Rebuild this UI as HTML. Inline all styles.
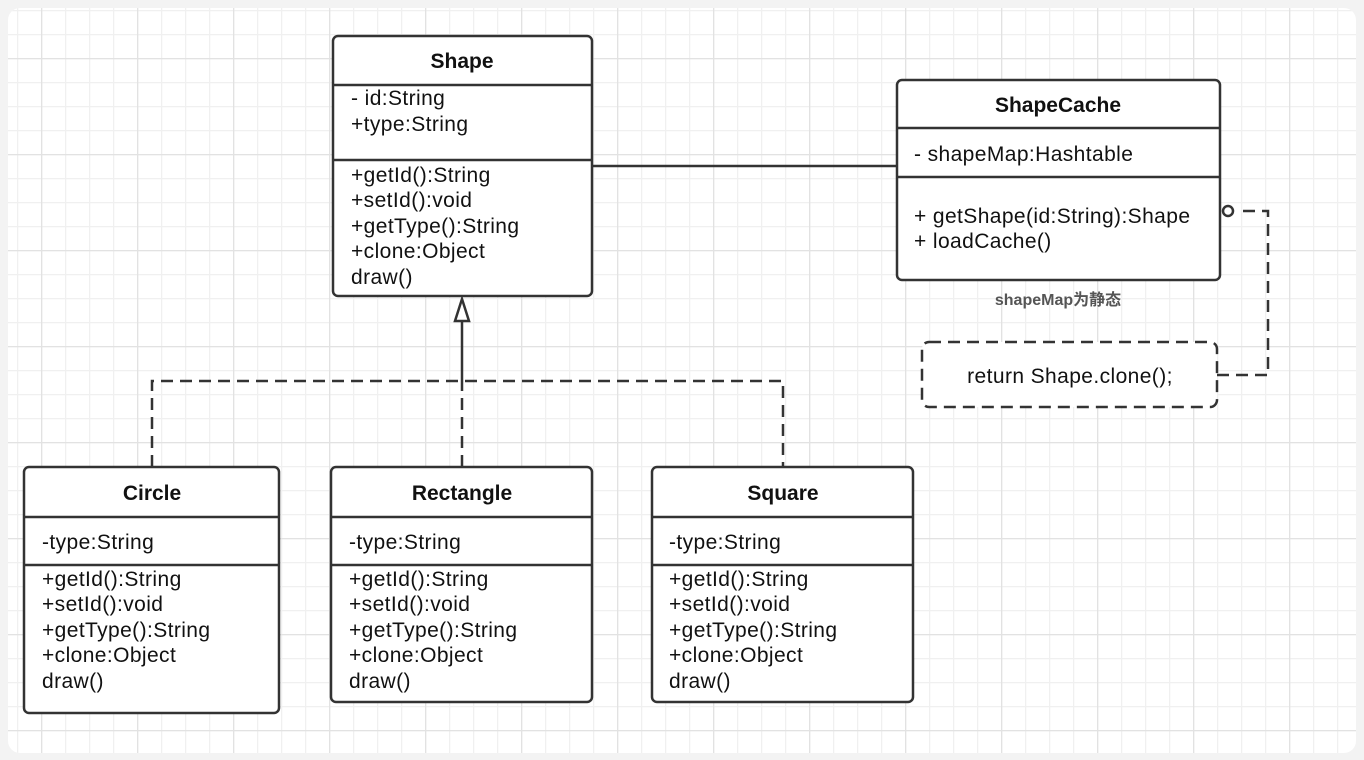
<!DOCTYPE html>
<html><head><meta charset="utf-8"><style>
html,body{margin:0;padding:0;background:#f3f3f3;}
svg{display:block;}
text{font-family:"Liberation Sans","Noto Sans CJK SC",sans-serif;font-size:21px;letter-spacing:0.4px;fill:#111;}
.b{font-weight:bold;letter-spacing:0;}
</style></head><body>
<svg width="1364" height="760" viewBox="0 0 1364 760" xmlns="http://www.w3.org/2000/svg">
<defs>
<pattern id="g" x="17" y="10" width="24" height="24" patternUnits="userSpaceOnUse">
<path d="M0 0.5H24M0.5 0V24" stroke="#f0f0f0" stroke-width="1.5" fill="none"/>
</pattern>
<pattern id="G" x="41" y="58" width="96" height="96" patternUnits="userSpaceOnUse">
<path d="M0 0.5H96M0.5 0V96" stroke="#e2e2e2" stroke-width="1.6" fill="none"/>
</pattern>
<clipPath id="c"><rect x="8" y="8" width="1348" height="745" rx="12"/></clipPath>
</defs>
<rect x="8" y="8" width="1348" height="745" rx="12" fill="#fff"/>
<g clip-path="url(#c)">
<rect x="8" y="8" width="1348" height="745" fill="url(#g)"/>
<rect x="8" y="8" width="1348" height="745" fill="url(#G)"/>
</g>
<g stroke="#333" stroke-width="2.5" fill="none">
<line x1="592" y1="166" x2="897" y2="166"/>
<path d="M152 467V381H783V467M462 467V381" stroke-dasharray="12 7"/>
<line x1="462" y1="381" x2="462" y2="322"/>
<path d="M1217 375H1268V211H1236" stroke-dasharray="12 7"/>
<circle cx="1228" cy="211" r="5" fill="#fff"/>
<rect x="922" y="342" width="295" height="65" rx="7" stroke-dasharray="12 7" fill="#fff"/>
</g>
<polygon points="462,299 455,321 469,321" fill="#fff" stroke="#333" stroke-width="2.5"/>
<g stroke="#333" stroke-width="2.5" fill="#fff">
<rect x="333" y="36" width="259" height="260" rx="5"/>
<line x1="333" y1="85" x2="592" y2="85"/><line x1="333" y1="160" x2="592" y2="160"/>
<rect x="897" y="80" width="323" height="200" rx="5"/>
<line x1="897" y1="128" x2="1220" y2="128"/><line x1="897" y1="177" x2="1220" y2="177"/>
<rect x="24" y="467" width="255" height="246" rx="5"/>
<line x1="24" y1="517" x2="279" y2="517"/><line x1="24" y1="565" x2="279" y2="565"/>
<rect x="331" y="467" width="261" height="235" rx="5"/>
<line x1="331" y1="517" x2="592" y2="517"/><line x1="331" y1="565" x2="592" y2="565"/>
<rect x="652" y="467" width="261" height="235" rx="5"/>
<line x1="652" y1="517" x2="913" y2="517"/><line x1="652" y1="565" x2="913" y2="565"/>
</g>
<text class="b" x="462" y="68" text-anchor="middle">Shape</text>
<text x="351" y="105">- id:String</text>
<text x="351" y="131">+type:String</text>
<text x="351" y="182">+getId():String</text>
<text x="351" y="207">+setId():void</text>
<text x="351" y="233">+getType():String</text>
<text x="351" y="258">+clone:Object</text>
<text x="351" y="284">draw()</text>
<text class="b" x="1058" y="112" text-anchor="middle">ShapeCache</text>
<text x="914" y="161">- shapeMap:Hashtable</text>
<text x="914" y="223">+ getShape(id:String):Shape</text>
<text x="914" y="248">+ loadCache()</text>
<text class="b" x="1058" y="305" text-anchor="middle" style="font-size:16px;fill:#555">shapeMap为静态</text>
<text x="1070" y="383" text-anchor="middle">return Shape.clone();</text>
<g>
<text class="b" x="152" y="500" text-anchor="middle">Circle</text>
<text x="42" y="549">-type:String</text>
<text x="42" y="586">+getId():String</text>
<text x="42" y="611">+setId():void</text>
<text x="42" y="637">+getType():String</text>
<text x="42" y="662">+clone:Object</text>
<text x="42" y="688">draw()</text>
</g>
<g>
<text class="b" x="462" y="500" text-anchor="middle">Rectangle</text>
<text x="349" y="549">-type:String</text>
<text x="349" y="586">+getId():String</text>
<text x="349" y="611">+setId():void</text>
<text x="349" y="637">+getType():String</text>
<text x="349" y="662">+clone:Object</text>
<text x="349" y="688">draw()</text>
</g>
<g>
<text class="b" x="783" y="500" text-anchor="middle">Square</text>
<text x="669" y="549">-type:String</text>
<text x="669" y="586">+getId():String</text>
<text x="669" y="611">+setId():void</text>
<text x="669" y="637">+getType():String</text>
<text x="669" y="662">+clone:Object</text>
<text x="669" y="688">draw()</text>
</g>
</svg>
</body></html>
